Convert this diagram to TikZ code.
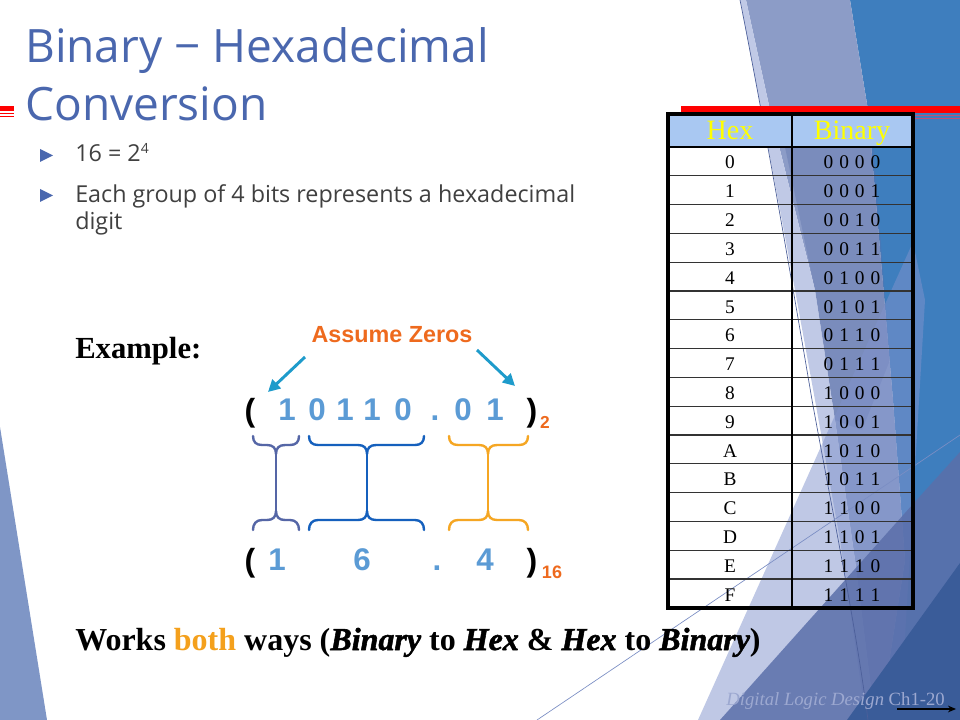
\documentclass[tikz,border=0pt]{standalone}
\usepackage{fontspec}
\setmainfont{Liberation Serif}
\newfontface\bisf{Liberation Serif Bold Italic}[FakeBold=1.6]
\newfontfamily\uif{Open Sans}
\newfontfamily\arialf{Liberation Sans}
\usetikzlibrary{arrows.meta}
\definecolor{titleblue}{HTML}{4A67AE}
\definecolor{bodygray}{HTML}{404040}
\definecolor{digitblue}{HTML}{5B9BD5}
\definecolor{zorange}{HTML}{EE6A1E}
\definecolor{bothorange}{HTML}{F4A01C}
\definecolor{arrowteal}{HTML}{1E9BCB}
\definecolor{braceA}{HTML}{5566A6}
\definecolor{braceB}{HTML}{1560BD}
\definecolor{braceC}{HTML}{F5A623}
\definecolor{headfill}{HTML}{A9C8F2}
\definecolor{headtext}{HTML}{FFFF00}
\definecolor{panelblue}{HTML}{3E7EBE}
\definecolor{bandgray}{HTML}{8C9CC7}
\definecolor{bandlight}{HTML}{C0C9E6}
\definecolor{wedge}{HTML}{7F96C6}
\definecolor{footgray}{HTML}{9CA8D0}
\definecolor{lavtri}{HTML}{8093CC}
\definecolor{midtri}{HTML}{5B6FAA}
\definecolor{darktri}{HTML}{3A5C99}
\definecolor{thinA}{HTML}{4C5F99}
\definecolor{thinB}{HTML}{7B8EC4}
\definecolor{redthin}{HTML}{BE5078}
\newcommand\myfs[1]{\fontsize{#1}{#1}\selectfont}
\newcommand\bq[4]{#1\hspace{4.5pt}#2\hspace{4.5pt}#3\hspace{4.5pt}#4}
\newcommand\bi[1]{{\bisf #1}}
\newcommand\ibrace[4]{%
  \draw[bracestyle,#4] (#1,436) .. controls (#1,442) and ({#1+3},445) .. ({#1+9},445) -- ({#3-9},445) .. controls ({#3-3},445) and (#3,448) .. (#3,454) .. controls (#3,448) and ({#3+3},445) .. ({#3+9},445) -- ({#2-9},445) .. controls ({#2-3},445) and (#2,442) .. (#2,436);
  \draw[bracestyle,#4] (#3,454) -- (#3,511);
  \draw[bracestyle,#4] (#1,530) .. controls (#1,524) and ({#1+3},520) .. ({#1+9},520) -- ({#3-9},520) .. controls ({#3-3},520) and (#3,517) .. (#3,511) .. controls (#3,517) and ({#3+3},520) .. ({#3+9},520) -- ({#2-9},520) .. controls ({#2-3},520) and (#2,524) .. (#2,530);
}
\begin{document}
\begin{tikzpicture}[x=0.75pt,y=-0.75pt,
  bracestyle/.style={line width=1.8pt,line cap=round,line join=round},
  celltext/.style={font=\myfs{14.5}, text=black, anchor=base, inner sep=0pt},
  headtxt/.style={font=\myfs{21}, text=headtext, anchor=base, inner sep=0pt},
  dig/.style={font=\arialf\bfseries\myfs{23.5}, text=digitblue, anchor=base, inner sep=0pt},
  par/.style={font=\arialf\bfseries\myfs{24}, text=black, anchor=base, inner sep=0pt},
  sub/.style={font=\arialf\bfseries\myfs{13}, text=zorange, anchor=base, inner sep=0pt},
  arr/.style={line width=2.2pt, draw=arrowteal, -{Triangle[length=9pt,width=9pt]}},
  rowline/.style={line width=1pt, draw=black!80},
]
\useasboundingbox (0,0) rectangle (960,720);
\fill[white] (0,0) rectangle (960,720);
% ---- background shapes ----
\fill[wedge] (0,427) -- (47,720) -- (0,720) -- cycle;
\fill[panelblue] (850,0) -- (960,0) -- (960,720) -- (880,720) -- (905,560) -- (893,400) -- (868,110) -- cycle;
\fill[bandgray] (746,0) -- (850,0) -- (868,110) -- (893,400) -- (905,560) -- (880,720) -- (875,720) -- (855,560) -- (835,420) -- (815,290) -- (770,110) -- cycle;
\fill[bandlight] (740,0) -- (746,0) -- (770,110) -- (815,290) -- (835,420) -- (855,560) -- (875,720) -- (866,720) -- (840,540) -- (815,400) -- (795,290) -- (765,130) -- cycle;
\fill[midtri, opacity=0.35] (778,114) -- (871,114) -- (890,360) -- (862,430) -- (835,420) -- (815,290) -- cycle;
\fill[lavtri, opacity=0.5] (698,720) -- (913,242) -- (925,300) -- (900,720) -- cycle;
\fill[midtri, opacity=0.85] (720,720) -- (913,504) -- (960,452) -- (960,720) -- cycle;
\fill[darktri] (847,720) -- (960,563) -- (960,720) -- cycle;
\draw[line width=0.5pt, draw=thinA] (740,0) .. controls (762,110) and (790,270) .. (812,400) .. controls (832,510) and (855,620) .. (868,720);
\draw[line width=0.5pt, draw=thinB] (537,720) -- (960,435);
% red accents
\fill[red] (0,106) rectangle (14,111);
\draw[red, line width=0.6pt] (0,113.5) -- (14,113.5) (0,116.5) -- (14,116.5);
\fill[red] (681,106) rectangle (960,113);
\draw[draw=redthin, line width=0.6pt] (913,115.5) -- (960,115.5) (913,118.5) -- (960,118.5);
% ---- title & bullets ----
\node[anchor=base west, inner sep=0pt, text=titleblue, font=\uif\myfs{34.5}] (t1) at (25,63) {Binary − Hexadecimal};
\node[anchor=base west, inner sep=0pt, text=titleblue, font=\uif\myfs{34.5}] (t2) at (25,121) {Conversion};
\fill[titleblue] (40,149) -- (53,155.5) -- (40,162) -- cycle;
\fill[titleblue] (40,189) -- (53,195.5) -- (40,202) -- cycle;
\node[anchor=base west, inner sep=0pt, text=bodygray, font=\uif\myfs{17.5}] (b1) at (75,162) {16 = 2\raisebox{6pt}{\myfs{10.5}4}};
\node[anchor=base west, inner sep=0pt, text=bodygray, font=\uif\myfs{17.5}] (b2) at (75,203) {Each group of 4 bits represents a hexadecimal};
\node[anchor=base west, inner sep=0pt, text=bodygray, font=\uif\myfs{17.5}] (b3) at (75,230) {digit};
% ---- example ----
\node[anchor=base west, inner sep=0pt, font=\bfseries\myfs{23}] (ex) at (75,358) {Example:};
\node[anchor=base, inner sep=0pt, text=zorange, font=\arialf\bfseries\myfs{17.5}] (az) at (392,342) {Assume Zeros};
\coordinate (azl) at (305,357);
\coordinate (azr) at (477,350);
\coordinate (tipl) at (268,392);
\coordinate (tipr) at (515,386);
\draw[arr] (azl) -- (tipl);
\draw[arr] (azr) -- (tipr);
% binary line
\node[par] (bo) at (250,421) {(};
\node[dig] (d1) at (287,420) {1};
\node[dig] (d2) at (317,420) {0};
\node[dig] (d3) at (345,420) {1};
\node[dig] (d4) at (372,420) {1};
\node[dig] (d5) at (403,420) {0};
\node[dig] (dp) at (435,420) {.};
\node[dig] (d6) at (463,420) {0};
\node[dig] (d7) at (495,420) {1};
\node[par] (bc) at (532,421) {)};
\node[sub] (s2) at (545,428) {2};
% hex line
\node[par] (ho) at (250,571) {(};
\node[dig] (h1) at (277,570) {1};
\node[dig] (h2) at (362,570) {6};
\node[dig] (hp) at (437,570) {.};
\node[dig] (h3) at (485,570) {4};
\node[par] (hc) at (532,571) {)};
\node[sub, font=\arialf\bfseries\myfs{13.5}] (s16) at (552,578) {16};
% braces
\ibrace{253}{299}{276}{braceA}
\ibrace{309}{424}{367}{braceB}
\ibrace{449}{528}{488}{braceC}
% bottom sentence
\node[anchor=base west, inner sep=0pt, font=\bfseries\myfs{24}] (works) at (75,650) {Works {\color{bothorange}both} ways (\bi{Binary} to \bi{Hex} \& \bi{Hex} to \bi{Binary})};
% ---- table ----
\fill[headfill] (668,114) rectangle (913,147);
\foreach \k in {1,...,15} {
  \draw[rowline] (668,{147+28.8*\k}) -- (913,{147+28.8*\k});
}
\draw[line width=1pt] (792,114) -- (792,608);
\draw[line width=2.2pt] (668,147) -- (913,147);
\draw[line width=2.4pt] (668,114) rectangle (913,608);
\node[headtxt] (hh) at (730,140) {Hex};
\node[headtxt] (hb) at (852,140) {Binary};
\foreach \i/\h/\a/\b/\c/\d in {0/0/0/0/0/0,1/1/0/0/0/1,2/2/0/0/1/0,3/3/0/0/1/1,4/4/0/1/0/0,5/5/0/1/0/1,6/6/0/1/1/0,7/7/0/1/1/1,8/8/1/0/0/0,9/9/1/0/0/1,10/A/1/0/1/0,11/B/1/0/1/1,12/C/1/1/0/0,13/D/1/1/0/1,14/E/1/1/1/0,15/F/1/1/1/1} {
  \node[celltext] (hx\i) at (730,{147+28.8*\i+22}) {\h};
  \node[celltext] (bn\i) at (852,{147+28.8*\i+22}) {\bq{\a}{\b}{\c}{\d}};
}
% footer
\node[anchor=base east, inner sep=0pt, text=footgray, font=\myfs{14}] (foot) at (945,705) {\textit{Digital Logic Design} Ch1-20};
\coordinate (fa1) at (897,709);
\coordinate (fa2) at (956,709);
\draw[line width=0.8pt, -{Stealth[length=6pt,width=5pt]}] (fa1) -- (fa2);
\end{tikzpicture}
\end{document}
